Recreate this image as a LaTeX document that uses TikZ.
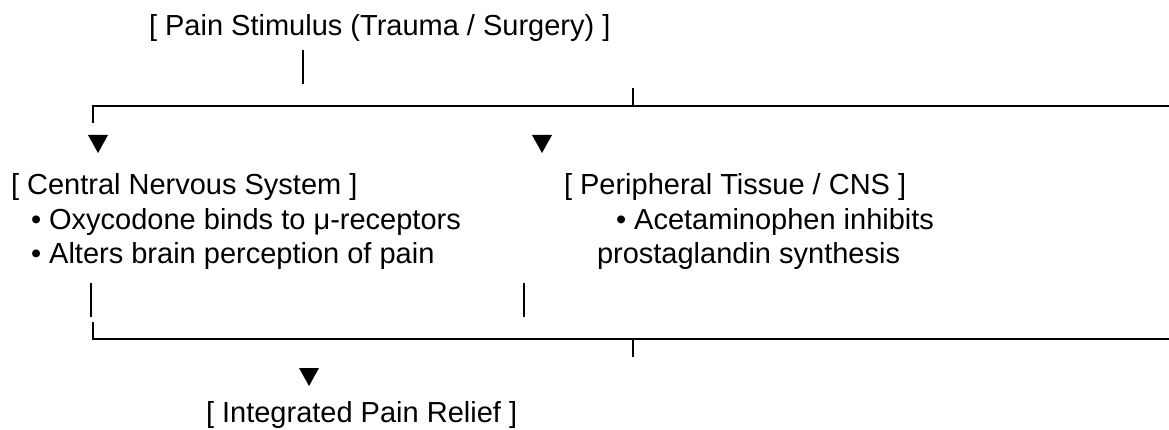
\documentclass[tikz,border=0pt]{standalone}
\usepackage{fontspec}
\setmainfont{Liberation Sans}
\begin{document}
\begin{tikzpicture}[x=1pt,y=-1pt,
  lbl/.style={anchor=base west,inner sep=0pt,outer sep=0pt,font=\fontsize{29}{34}\selectfont},
  conn/.style={line width=2.5pt},
  tri/.style={fill=black}]
\useasboundingbox (0,0) rectangle (1169,430);
% texts
\node[lbl] (pain)  at (149,36)  {[ Pain Stimulus (Trauma / Surgery) ]};
\node[lbl] (cns)   at (11,195)  {[ Central Nervous System ]};
\node[lbl] (oxy)   at (31,230)  {• Oxycodone binds to μ-receptors};
\node[lbl] (alt)   at (31,264)  {• Alters brain perception of pain};
\node[lbl] (per)   at (564,195) {[ Peripheral Tissue / CNS ]};
\node[lbl] (acet)  at (616,230) {• Acetaminophen inhibits};
\node[lbl] (prost) at (597,264) {prostaglandin synthesis};
\node[lbl] (integ) at (206,422) {[ Integrated Pain Relief ]};
% coordinates
\coordinate (s1) at (303,50);  \coordinate (s2) at (303,84);
\coordinate (tl) at (93,123);  \coordinate (tc) at (93,106);  \coordinate (tr) at (1169,106);
\coordinate (tk1) at (633,88); \coordinate (tk2) at (633,106);
\coordinate (a1) at (98,135);  \coordinate (a2) at (542,135);
\coordinate (l1) at (91,283);  \coordinate (l2) at (91,317);
\coordinate (r1) at (524,283); \coordinate (r2) at (524,317);
\coordinate (bl) at (93,322);  \coordinate (bc) at (93,339);  \coordinate (br) at (1169,339);
\coordinate (bk1) at (633,339); \coordinate (bk2) at (633,357);
\coordinate (a3) at (309,368);
% connectors
\draw[conn] (s1) -- (s2);
\draw[conn] (tl) -- (tc) -- (tr);
\draw[conn] (tk1) -- (tk2);
\draw[conn] (l1) -- (l2);
\draw[conn] (r1) -- (r2);
\draw[conn] (bl) -- (bc) -- (br);
\draw[conn] (bk1) -- (bk2);
% arrowheads
\fill[tri] (a1) ++(-10,0) -- ++(20,0) -- ++(-10,18) -- cycle;
\fill[tri] (a2) ++(-10,0) -- ++(20,0) -- ++(-10,18) -- cycle;
\fill[tri] (a3) ++(-10,0) -- ++(20,0) -- ++(-10,18) -- cycle;
\end{tikzpicture}
\end{document}
